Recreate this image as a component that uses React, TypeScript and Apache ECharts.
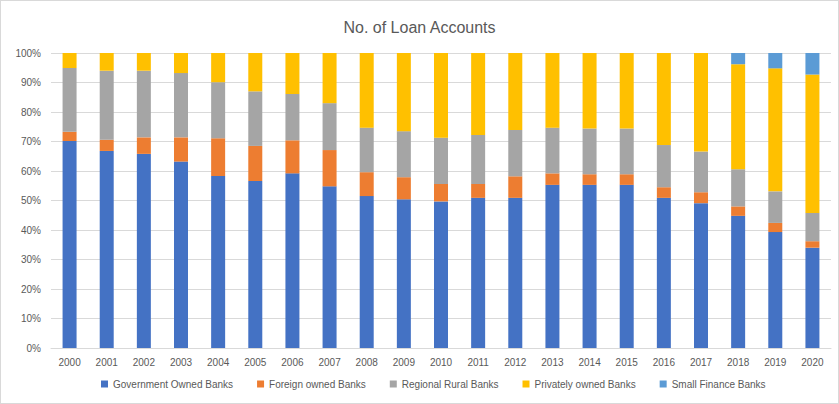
import React, { useEffect, useRef } from "react";
import * as echarts from "echarts";

const years = ["2000","2001","2002","2003","2004","2005","2006","2007","2008","2009","2010","2011","2012","2013","2014","2015","2016","2017","2018","2019","2020"];
const government = [70.2, 66.8, 65.8, 63.2, 58.3, 56.6, 59.2, 54.8, 51.5, 50.4, 49.7, 50.9, 50.9, 55.3, 55.3, 55.3, 50.9, 49.1, 44.8, 39.3, 34.0];
const foreign = [3.1, 3.8, 5.6, 8.2, 12.8, 11.9, 11.2, 12.3, 8.1, 7.5, 5.9, 4.7, 7.3, 3.9, 3.6, 3.6, 3.6, 3.7, 3.2, 3.1, 2.2];
const regional = [21.6, 23.4, 22.6, 21.8, 19.0, 18.5, 15.7, 15.9, 15.1, 15.6, 15.7, 16.6, 15.7, 15.5, 15.5, 15.5, 14.3, 13.8, 12.6, 10.7, 9.6];
const privately = [5.1, 6.0, 6.0, 6.8, 9.9, 13.0, 13.9, 17.0, 25.3, 26.5, 28.7, 27.8, 26.1, 25.3, 25.6, 25.6, 31.2, 33.4, 35.6, 41.7, 46.9];
const smallFinance = [0, 0, 0, 0, 0, 0, 0, 0, 0, 0, 0, 0, 0, 0, 0, 0, 0, 0, 3.8, 5.2, 7.3];

const seriesNames = ["Government Owned Banks", "Foreign owned Banks", "Regional Rural Banks", "Privately owned Banks", "Small Finance Banks"];
const seriesData = [government, foreign, regional, privately, smallFinance];
const colors = ["#4472C4", "#ED7D31", "#A5A5A5", "#FFC000", "#5B9BD5"];

export default function App() {
  const ref = useRef<HTMLDivElement>(null);
  useEffect(() => {
    if (!ref.current) return;
    const chart = echarts.init(ref.current, null, { renderer: "svg" });
    const font = "'Liberation Sans', Arial, sans-serif";
    chart.setOption({
      animation: false,
      textStyle: { fontFamily: font },
      title: {
        text: "No. of Loan Accounts",
        left: "center",
        top: 13,
        textStyle: { fontSize: 16, fontWeight: "normal", color: "#595959", fontFamily: font },
      },
      legend: {
        bottom: 9,
        left: 95,
        itemWidth: 7,
        itemHeight: 7,
        itemGap: 24,
        icon: "rect",
        textStyle: { fontSize: 10, color: "#595959", fontFamily: font },
        data: seriesNames,
      },
      grid: { left: 50, right: 7, top: 52, bottom: 55, containLabel: false },
      xAxis: {
        type: "category",
        data: years,
        axisLine: { lineStyle: { color: "#d9d9d9" } },
        axisTick: { show: false },
        axisLabel: { fontSize: 10, color: "#595959", margin: 9 },
      },
      yAxis: {
        type: "value",
        min: 0,
        max: 100,
        interval: 10,
        axisLine: { show: false },
        axisTick: { show: false },
        axisLabel: { formatter: "{value}%", fontSize: 10, color: "#595959", margin: 10 },
        splitLine: { lineStyle: { color: "#d9d9d9" } },
      },
      series: seriesData.map((d, i) => ({
        name: seriesNames[i],
        type: "bar",
        stack: "total",
        barWidth: 14,
        data: d,
        itemStyle: { color: colors[i] },
      })),
    });
    return () => chart.dispose();
  }, []);
  return (
    <div
      ref={ref}
      style={{ width: 839, height: 404, position: "absolute", left: 0, top: 0, boxSizing: "border-box", border: "1px solid #d9d9d9" }}
    />
  );
}
